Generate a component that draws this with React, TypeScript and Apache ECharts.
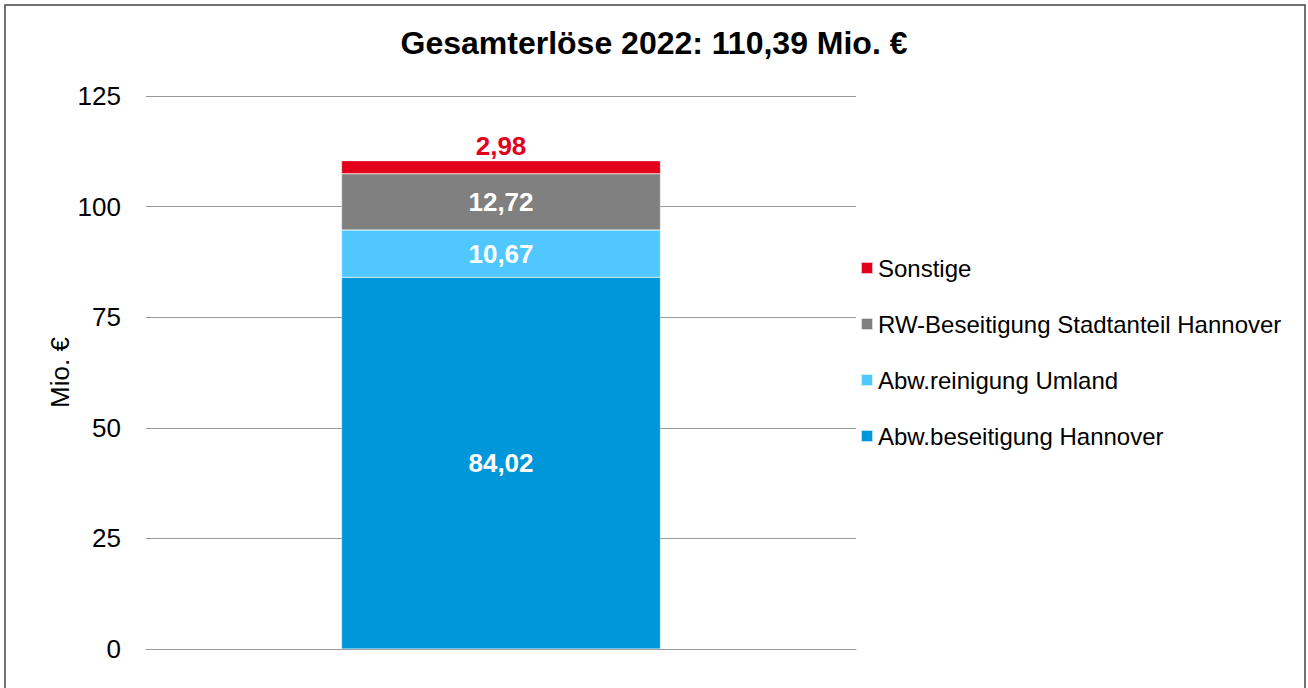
import React, { useEffect, useRef } from "react";
import * as echarts from "echarts";

const categories = ["2022"];
const seriesNames = [
  "Abw.beseitigung Hannover",
  "Abw.reinigung Umland",
  "RW-Beseitigung Stadtanteil Hannover",
  "Sonstige",
];
const seriesValues = [[84.02], [10.67], [12.72], [2.98]];
const seriesColors = ["#0096DA", "#50C8FF", "#808080", "#E2001A"];
const labelColors = ["#FFFFFF", "#FFFFFF", "#FFFFFF", "#E2001A"];
const labelPositions = ["inside", "inside", "inside", "top"];
const yTicks = { min: 0, max: 125, interval: 25 };
const titleText = "Gesamterlöse 2022: 110,39 Mio. €";
const yAxisName = "Mio. €";

const FONT = "'Liberation Sans', Arial, sans-serif";

export default function App() {
  const ref = useRef<HTMLDivElement>(null);
  useEffect(() => {
    document.body.style.margin = "0";
    if (!ref.current) return;
    const chart = echarts.init(ref.current, undefined, { renderer: "svg" });
    chart.setOption({
      animation: false,
      backgroundColor: "#FFFFFF",
      textStyle: { fontFamily: FONT },
      title: {
        text: titleText,
        left: "center",
        top: 27,
        padding: 0,
        textStyle: { fontFamily: FONT, fontSize: 32, fontWeight: "bold", color: "#000" },
      },
      graphic: [
        {
          type: "rect",
          shape: { x: 5, y: 5, width: 1300, height: 720 },
          style: { fill: "none", stroke: "#444", lineWidth: 1.5 },
          silent: true,
        },
      ],
      legend: {
        orient: "vertical",
        left: 860,
        top: 256,
        padding: 0,
        itemWidth: 12,
        itemHeight: 12,
        itemGap: 32,
        icon: "rect",
        data: [...seriesNames].reverse(),
        textStyle: { fontFamily: FONT, fontSize: 24, color: "#000", lineHeight: 24 },
      },
      grid: { left: 146, right: 452, top: 96, bottom: 39, containLabel: false },
      xAxis: {
        type: "category",
        data: categories,
        axisLine: { show: true, lineStyle: { color: "#999", width: 1 } },
        axisTick: { show: false },
        axisLabel: { show: false },
      },
      yAxis: {
        type: "value",
        min: yTicks.min,
        max: yTicks.max,
        interval: yTicks.interval,
        name: yAxisName,
        nameLocation: "middle",
        nameGap: 73,
        nameMoveOverlap: false,
        nameRotate: 90,
        nameTextStyle: { fontFamily: FONT, fontSize: 26, color: "#000" },
        axisLine: { show: false },
        axisTick: { show: false },
        axisLabel: { fontFamily: FONT, fontSize: 26, color: "#000", margin: 25 },
        splitLine: { lineStyle: { color: "#999", width: 1 } },
      },
      series: seriesNames.map((name, i) => ({
        name,
        type: "bar",
        stack: "total",
        data: seriesValues[i],
        barWidth: 319,
        itemStyle: { color: seriesColors[i], borderColor: "rgba(255,255,255,0.7)", borderWidth: 0.5 },
        label: {
          show: true,
          position: labelPositions[i],
          distance: 2,
          color: labelColors[i],
          fontFamily: FONT,
          fontSize: 26,
          fontWeight: "bold",
          formatter: (p: any) => p.value.toFixed(2).replace(".", ","),
        },
      })),
    });
    return () => chart.dispose();
  }, []);
  return <div ref={ref} style={{ width: 1308, height: 688 }} />;
}
